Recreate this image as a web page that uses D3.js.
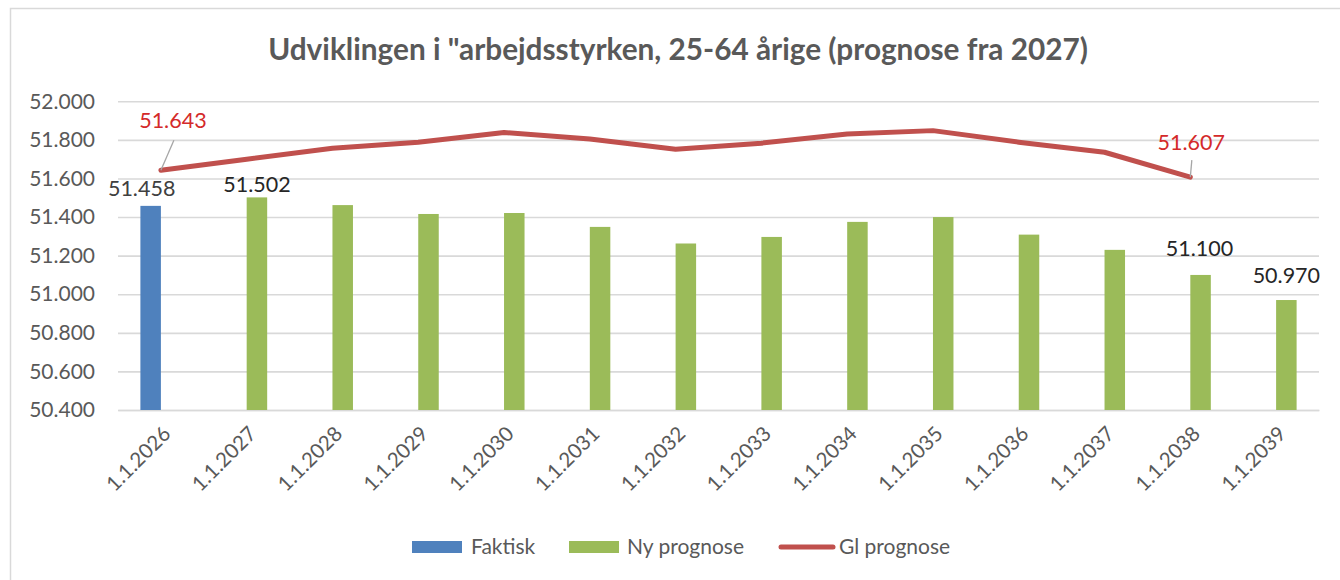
<!DOCTYPE html>
<html><head><meta charset="utf-8">
<script src="https://cdn.jsdelivr.net/npm/d3@7/dist/d3.min.js"></script>
<style>
body{margin:0;background:#fff}
svg{display:block}
text{font-family:Lato,"Open Sans",sans-serif}
</style>
</head><body>
<svg id="chart" width="1340" height="580"></svg>
<script>
// ---------- data ----------
const titleText = 'Udviklingen i "arbejdsstyrken, 25-64 årige (prognose fra 2027)';
const categories = ["1.1.2026","1.1.2027","1.1.2028","1.1.2029","1.1.2030","1.1.2031","1.1.2032",
                    "1.1.2033","1.1.2034","1.1.2035","1.1.2036","1.1.2037","1.1.2038","1.1.2039"];
const faktisk    = [51458, null, null, null, null, null, null, null, null, null, null, null, null, null];
const nyPrognose = [null, 51502, 51462, 51416, 51421, 51349, 51263, 51297, 51375, 51400, 51309, 51230, 51100, 50970];
const glPrognose = [51643, 51700, 51757, 51788, 51838, 51805, 51752, 51783, 51830, 51848, 51788, 51736, 51607, null];
const yTicks = [50400, 50600, 50800, 51000, 51200, 51400, 51600, 51800, 52000];
const seriesNames = ["Faktisk", "Ny prognose", "Gl prognose"];

// which points carry data labels
const labeledFaktisk = [0];
const labeledNy = [1, 12, 13];
const labeledGl = [0, 12];

// ---------- layout / style ----------
const W = 1340, H = 580;
const plot = {left: 118, right: 1319, top: 101.3, bottom: 410};
const colors = {"Faktisk": "#4F81BD", "Ny prognose": "#9BBB59", "Gl prognose": "#C0504D"};
const barW = 20.5;
// label offsets relative to bar top centre (px): [dx, gap above]
const barLabelOff = {"f0": [-9, 10], "n1": [0, 5], "n12": [-1, 19], "n13": [0, 17]};
// line label offsets: [text dx, text baseline dy, leader start dx, leader start dy]
const lineLabelOff = {0: [12, -42, 13, -30], 12: [1, -27, 1.5, -17]};

const svg = d3.select("#chart");
svg.append("rect").attr("x", 10.5).attr("y", 8.5).attr("width", W).attr("height", H)
   .attr("fill", "#fff").attr("stroke", "#D9D9D9").attr("stroke-width", 1.5);

const locale = d3.formatLocale({decimal: ",", thousands: ".", grouping: [3], currency: ["", " kr."]});
const fmt = locale.format(",.0f");

const x = d3.scaleBand().domain(categories).range([plot.left, plot.right]).padding(0);
const sub = d3.scaleBand().domain(["Faktisk", "Ny prognose"]).range([-barW, barW]).padding(0);
const y = d3.scaleLinear().domain([50400, 52000]).range([plot.bottom, plot.top]);
const cx = c => x(c) + x.bandwidth() / 2;

// title
const title = svg.append("text").attr("x", 678).attr("y", 60).attr("text-anchor", "middle")
  .attr("fill", "#595959").attr("font-weight", "bold").attr("font-size", 26).text(titleText);
const tl = title.node().getComputedTextLength();
title.attr("font-size", 26 * 820 / tl);

// y axis + gridlines
const yAxis = svg.append("g").attr("transform", `translate(${plot.left},0)`)
  .call(d3.axisLeft(y).tickValues(yTicks).tickFormat(fmt)
        .tickSize(-(plot.right - plot.left)).tickPadding(23));
yAxis.select(".domain").remove();
yAxis.selectAll(".tick line").attr("stroke", "#D9D9D9").attr("stroke-width", 1.6);
yAxis.selectAll(".tick text").attr("fill", "#595959").attr("font-size", 21)
  .attr("font-family", "Lato, 'Open Sans', sans-serif");

// x axis
const xAxis = svg.append("g").attr("transform", `translate(0,${plot.bottom})`)
  .call(d3.axisBottom(x).tickSize(0));
xAxis.select(".domain").attr("stroke", "#D9D9D9").attr("stroke-width", 1.6);
xAxis.selectAll(".tick text").attr("fill", "#595959").attr("font-size", 20.5)
  .attr("font-family", "Lato, 'Open Sans', sans-serif")
  .attr("text-anchor", "end").attr("x", 0).attr("y", 0).attr("dy", "0.35em")
  .attr("transform", "translate(6,20) rotate(-45)");

// bars
const barData = [];
categories.forEach((c, i) => {
  if (faktisk[i] != null) barData.push({c, s: "Faktisk", v: faktisk[i], key: "f" + i});
  if (nyPrognose[i] != null) barData.push({c, s: "Ny prognose", v: nyPrognose[i], key: "n" + i});
});
svg.append("g").selectAll("rect").data(barData).join("rect")
  .attr("x", d => cx(d.c) + sub(d.s))
  .attr("width", sub.bandwidth())
  .attr("y", d => y(d.v))
  .attr("height", d => y(50400) - y(d.v))
  .attr("fill", d => colors[d.s]);

// bar labels
const barLabels = barData.filter(d =>
  (d.s === "Faktisk" && labeledFaktisk.includes(categories.indexOf(d.c))) ||
  (d.s === "Ny prognose" && labeledNy.includes(categories.indexOf(d.c))));
svg.append("g").selectAll("text").data(barLabels).join("text")
  .attr("x", d => cx(d.c) + sub(d.s) + sub.bandwidth() / 2 + barLabelOff[d.key][0])
  .attr("y", d => y(d.v) - barLabelOff[d.key][1])
  .attr("text-anchor", "middle").attr("font-size", 21.5)
  .attr("fill", d => d.s === "Faktisk" ? "#404040" : "#262626")
  .text(d => fmt(d.v));

// line
const lineData = categories.map((c, i) => ({c, v: glPrognose[i]})).filter(d => d.v != null);
svg.append("path").datum(lineData)
  .attr("d", d3.line().x(d => cx(d.c)).y(d => y(d.v)))
  .attr("fill", "none").attr("stroke", colors["Gl prognose"]).attr("stroke-width", 5)
  .attr("stroke-linejoin", "round").attr("stroke-linecap", "round");

// line labels with leader lines
labeledGl.forEach(i => {
  const px = cx(categories[i]), py = y(glPrognose[i]);
  const o = lineLabelOff[i];
  svg.append("line").attr("x1", px + o[2]).attr("y1", py + o[3]).attr("x2", px).attr("y2", py)
    .attr("stroke", "#A6A6A6").attr("stroke-width", 1.3);
  svg.append("text").attr("x", px + o[0]).attr("y", py + o[1]).attr("text-anchor", "middle")
    .attr("font-size", 21.5).attr("fill", "#D42A2A").text(fmt(glPrognose[i]));
});

// legend
const legend = svg.append("g");
const legendItems = [
  {name: seriesNames[0], sx: 412, tx: 471, type: "rect"},
  {name: seriesNames[1], sx: 569, tx: 627, type: "rect"},
  {name: seriesNames[2], sx: 779, tx: 839, type: "line"}
];
const ly = 547;
legendItems.forEach(it => {
  if (it.type === "rect") {
    legend.append("rect").attr("x", it.sx).attr("y", ly - 6).attr("width", 50).attr("height", 12)
      .attr("fill", colors[it.name]);
  } else {
    legend.append("line").attr("x1", it.sx + 2).attr("x2", it.sx + 54).attr("y1", ly).attr("y2", ly)
      .attr("stroke", colors[it.name]).attr("stroke-width", 5).attr("stroke-linecap", "round");
  }
  legend.append("text").attr("x", it.tx).attr("y", ly).attr("dy", "0.35em")
    .attr("font-size", 21).attr("fill", "#595959").text(it.name);
});
</script>
</body></html>
